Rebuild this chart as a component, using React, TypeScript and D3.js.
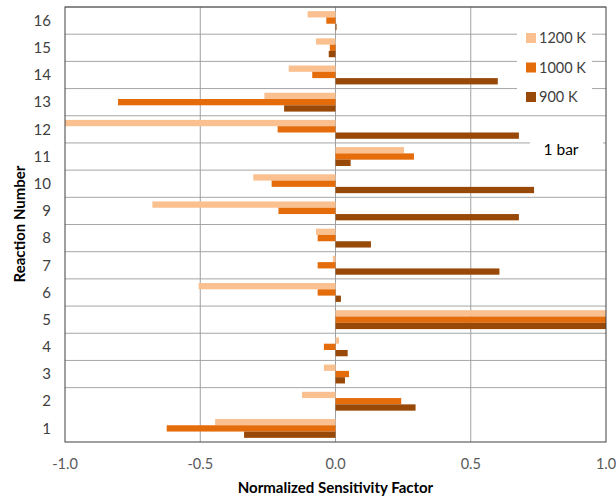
import React from "react";
import * as d3 from "d3";

// reaction numbers, bottom (1) to top (16)
const reactions = [1, 2, 3, 4, 5, 6, 7, 8, 9, 10, 11, 12, 13, 14, 15, 16];
const k1200 = [-0.445, -0.124, -0.043, 0.013, 1.0, -0.506, -0.01, -0.072, -0.677, -0.304, 0.253, -1.0, -0.263, -0.173, -0.072, -0.103];
const k1000 = [-0.624, 0.243, 0.05, -0.043, 1.0, -0.066, -0.066, -0.066, -0.211, -0.236, 0.29, -0.214, -0.804, -0.086, -0.021, -0.034];
const k900 = [-0.338, 0.296, 0.035, 0.045, 1.0, 0.02, 0.606, 0.131, 0.678, 0.734, 0.056, 0.678, -0.19, 0.6, -0.025, 0.004];
const seriesNames = ["1200 K", "1000 K", "900 K"];
const xTicks = [-1.0, -0.5, 0.0, 0.5, 1.0];

const colors = ["#FAC090", "#E46C0A", "#984807"];
const font = "Lato, 'Open Sans', sans-serif";

const App = () => {
    const width = 616;
    const height = 500;
    const left = 65;
    const right = 606;
    const top = 7;
    const bottom = 442;

    const series = [k1200, k1000, k900];

    const x = d3.scaleLinear().domain([-1, 1]).range([left, right]);
    const y = d3
        .scaleBand<number>()
        .domain([...reactions].reverse())
        .range([top, bottom])
        .padding(0);
    const inner = d3
        .scaleBand<number>()
        .domain([0, 1, 2])
        .range([0, y.bandwidth()])
        .paddingInner(0)
        .paddingOuter(0.66);

    const boundaries = reactions.slice(1).map((r) => y(r)!);
    // hyphen instead of unicode minus, like the original
    const fmt = (t: number) => t.toFixed(1);

    return (
        <svg
            width={width}
            height={height}
            style={{ position: "absolute", left: 0, top: 0, background: "#fff" }}
        >
            {/* horizontal grid */}
            {boundaries.map((b, i) => (
                <line key={"h" + i} x1={left} x2={right} y1={b} y2={b} stroke="#a6a6a6" strokeWidth={1} />
            ))}
            {/* vertical grid */}
            {xTicks.slice(1, -1).map((t) => (
                <line key={"v" + t} x1={x(t)} x2={x(t)} y1={top} y2={bottom} stroke="#a0a0a0" strokeWidth={1} />
            ))}

            {/* bars */}
            {series.map((vals, s) =>
                vals.map((v, i) => {
                    const r = reactions[i];
                    const x0 = Math.min(x(0), x(v));
                    const w = Math.abs(x(v) - x(0));
                    return (
                        <rect
                            key={s + "-" + r}
                            x={x0}
                            y={y(r)! + inner(s)!}
                            width={w}
                            height={inner.bandwidth()}
                            fill={colors[s]}
                        />
                    );
                })
            )}

            {/* plot border */}
            <rect x={left} y={top} width={right - left} height={bottom - top} fill="none" stroke="#404040" strokeWidth={1} />

            {/* x tick labels */}
            {xTicks.map((t) => (
                <text key={"xt" + t} x={x(t)} y={469} textAnchor="middle" fontFamily={font} fontSize={14.5} fill="#595959">
                    {fmt(t)}
                </text>
            ))}
            {/* y tick labels */}
            {reactions.map((r) => (
                <text
                    key={"yt" + r}
                    x={51}
                    y={y(r)! + y.bandwidth() / 2}
                    dy="0.35em"
                    textAnchor="end"
                    fontFamily={font}
                    fontSize={15}
                    fill="#404040"
                >
                    {r}
                </text>
            ))}

            {/* axis titles */}
            <text x={335.5} y={493} textAnchor="middle" fontFamily={font} fontSize={15} fontWeight="bold" fill="#000">
                Normalized Sensitivity Factor
            </text>
            <text
                transform={`translate(25, ${224}) rotate(-90)`}
                textAnchor="middle"
                fontFamily={font}
                fontSize={15}
                fontWeight="bold"
                fill="#000"
            >
                Reaction Number
            </text>

            {/* legend */}
            <rect x={517} y={22} width={75} height={88} fill="#fff" />
            {seriesNames.map((name, i) => (
                <g key={name} transform={`translate(526, ${33 + i * 29.5})`}>
                    <rect x={0} y={0} width={10} height={10} fill={colors[i]} />
                    <text x={13} y={5} dy="0.36em" fontFamily={font} fontSize={14.5} fill="#404040">
                        {name}
                    </text>
                </g>
            ))}

            {/* annotation */}
            <rect x={530} y={136} width={73} height={28} fill="#fff" />
            <text x={561} y={155} textAnchor="middle" fontFamily={font} fontSize={15.5} fill="#000">
                1 bar
            </text>
        </svg>
    );
};

export default App;
